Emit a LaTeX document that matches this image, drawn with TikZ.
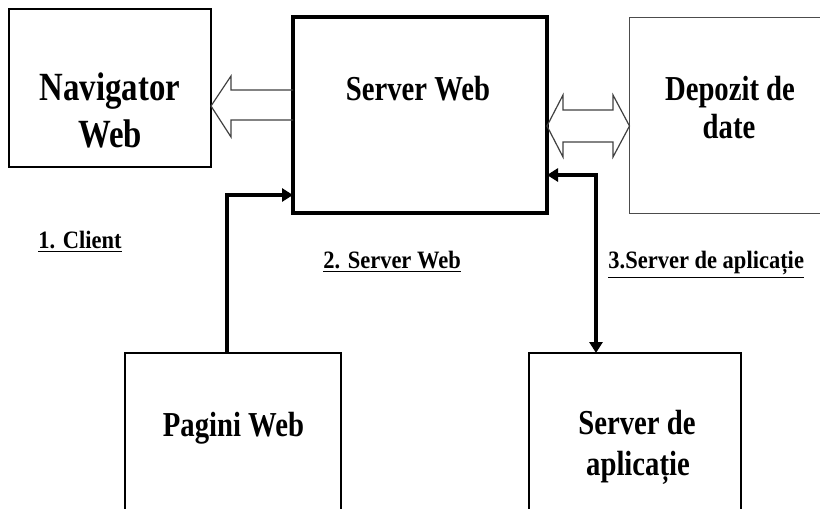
\documentclass[tikz,border=0pt]{standalone}
\usepackage{fontspec}
\setmainfont{Liberation Serif}
\newfontfamily\boxfont{Liberation Serif}[FakeStretch=0.82]
\newfontfamily\tagfont{Liberation Serif}[FakeStretch=0.9]
\usetikzlibrary{arrows.meta}

\tikzset{
  box/.style={draw,rectangle,outer sep=0pt,inner sep=0pt},
  word/.style={anchor=base,inner sep=0pt,font=\boxfont\bfseries\fontsize{17.5}{20}\selectfont},
  tag/.style={anchor=base west,inner sep=0pt,font=\tagfont\bfseries\fontsize{12.5}{15}\selectfont},
  conn/.style={line width=2.2pt},
  hollow/.style={draw=black!75,line width=0.6pt,line join=miter}
}

\begin{document}
\begin{tikzpicture}[x=0.5pt,y=-0.5pt,>={Triangle[length=5.5pt,width=6.5pt]}]
            \useasboundingbox (0,0) rectangle (820,509);
            % boxes
            \node[box,line width=1pt,minimum width=101pt,minimum height=79pt] (nav) at (110,88) {};
            \node[box,line width=2pt,minimum width=127pt,minimum height=98pt] (srv) at (420,115) {};
            \node[box,draw=black!70,line width=0.5pt,minimum width=110pt,minimum height=98pt] (dep) at (739.5,115) {};
            \node[box,line width=1pt,minimum width=108pt,minimum height=80pt] (pag) at (233,433) {};
            \node[box,line width=1pt,minimum width=106pt,minimum height=80pt] (app) at (635,433) {};
            % texts
            \node[word,font=\boxfont\bfseries\fontsize{20}{24}\selectfont] (navA) at (110,100) {Navigator};
            \node[word,font=\boxfont\bfseries\fontsize{20}{24}\selectfont] (navB) at (110,147) {Web};
            \node[word] (srvA) at (418,100) {Server Web};
            \node[word] (depA) at (730,100) {Depozit de};
            \node[word] (depB) at (729,138) {date};
            \node[word] (pagA) at (233.5,436) {Pagini Web};
            \node[word] (appA) at (637,434) {Server de};
            \node[word] (appB) at (638,475) {aplicație};
            % labels
            \node[tag] (t1) at (38,248) {\underline{1. Client}};
            \node[tag] (t2) at (323,268) {\underline{2. Server Web}};
            \node[tag] (t3) at (608,268) {\underline{3.Server de aplicație}};
            % hollow arrows
            \draw[hollow] (srv.west |- 0,90) -- (231,90) -- (231,76) -- (nav.east |- 0,106)
                -- (231,137) -- (231,120) -- (srv.west |- 0,120);
            \draw[hollow] (srv.east |- 0,126) -- (563,95) -- (563,110) -- (613,110) -- (613,95)
                -- (dep.west |- 0,126) -- (613,157) -- (613,142) -- (563,142) -- (563,157) -- cycle;
            % thick connectors
            \draw[conn,->] (pag.north -| 227,0) |- (srv.west |- 0,195);
            \draw[conn,<->] (app.north -| 596,0) |- (srv.east |- 0,175);
        \end{tikzpicture}
\end{document}
